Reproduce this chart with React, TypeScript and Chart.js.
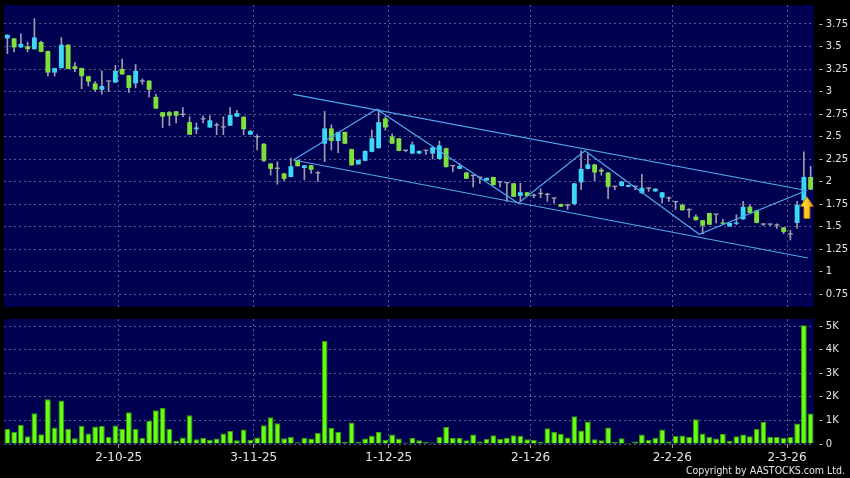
import React, { useEffect, useRef } from 'react';
import { Chart, registerables } from 'chart.js';

Chart.register(...registerables);

// ---- DATA ----
const openP = [
  3.59, 3.59, 3.49, 3.50, 3.47, 3.55, 3.45, 3.21, 3.26, 3.52,
  3.28, 3.26, 3.17, 3.09, 3.02, 3.11, 3.10, 3.25, 3.18, 3.09,
  3.11, 3.12, 2.94, 2.77, 2.77, 2.78, 2.74, 2.66, 2.58, 2.69,
  2.60, 2.62, 2.60, 2.62, 2.72, 2.72, 2.52, 2.49, 2.42, 2.20,
  2.14, 2.09, 2.05, 2.24, 2.15, 2.18, 2.09, 2.42, 2.59, 2.45,
  2.55, 2.36, 2.19, 2.23, 2.33, 2.37, 2.70, 2.50, 2.48, 2.34,
  2.31, 2.31, 2.34, 2.31, 2.25, 2.37, 2.17, 2.14, 2.10, 2.06,
  2.04, 2.01, 2.05, 1.99, 1.98, 1.98, 1.84, 1.88, 1.84, 1.86,
  1.85, 1.81, 1.75, 1.73, 1.75, 1.99, 2.14, 2.19, 2.13, 2.10,
  1.94, 1.95, 1.94, 1.94, 1.87, 1.92, 1.89, 1.82, 1.81, 1.77,
  1.74, 1.68, 1.61, 1.57, 1.65, 1.63, 1.54, 1.50, 1.53, 1.58,
  1.72, 1.68, 1.52, 1.52, 1.51, 1.49, 1.41, 1.54, 1.79, 2.05,
];
const highP = [
  3.63, 3.59, 3.64, 3.55, 3.81, 3.56, 3.45, 3.26, 3.60, 3.52,
  3.32, 3.26, 3.17, 3.11, 3.23, 3.11, 3.29, 3.36, 3.18, 3.30,
  3.14, 3.12, 2.97, 2.77, 2.78, 2.78, 2.82, 2.72, 2.65, 2.73,
  2.73, 2.65, 2.72, 2.82, 2.79, 2.72, 2.57, 2.52, 2.42, 2.20,
  2.22, 2.09, 2.26, 2.24, 2.18, 2.18, 2.11, 2.78, 2.63, 2.55,
  2.55, 2.36, 2.24, 2.34, 2.57, 2.80, 2.72, 2.53, 2.48, 2.35,
  2.44, 2.34, 2.34, 2.38, 2.45, 2.37, 2.18, 2.20, 2.10, 2.07,
  2.05, 2.04, 2.05, 2.00, 1.98, 1.98, 1.98, 1.88, 1.86, 1.92,
  1.87, 1.81, 1.75, 1.75, 1.98, 2.34, 2.31, 2.19, 2.15, 2.10,
  1.94, 2.00, 1.96, 1.94, 2.08, 1.93, 1.92, 1.88, 1.83, 1.78,
  1.75, 1.70, 1.63, 1.57, 1.65, 1.63, 1.58, 1.54, 1.63, 1.78,
  1.74, 1.68, 1.53, 1.52, 1.53, 1.49, 1.46, 1.78, 2.33, 2.17,
];
const lowP = [
  3.42, 3.44, 3.49, 3.44, 3.47, 3.44, 3.17, 3.17, 3.26, 3.25,
  3.22, 3.03, 3.06, 3.00, 2.97, 3.00, 3.10, 3.19, 2.99, 3.04,
  3.08, 2.94, 2.81, 2.60, 2.62, 2.65, 2.72, 2.52, 2.53, 2.65,
  2.60, 2.52, 2.52, 2.62, 2.72, 2.52, 2.52, 2.35, 2.22, 2.07,
  1.97, 2.01, 2.05, 2.17, 2.02, 2.09, 2.00, 2.22, 2.35, 2.32,
  2.42, 2.18, 2.19, 2.23, 2.33, 2.37, 2.57, 2.42, 2.34, 2.33,
  2.31, 2.31, 2.30, 2.25, 2.25, 2.16, 2.11, 2.14, 2.03, 1.94,
  1.98, 2.01, 1.96, 1.94, 1.78, 1.83, 1.78, 1.84, 1.82, 1.82,
  1.78, 1.76, 1.72, 1.69, 1.74, 1.91, 2.14, 2.01, 2.07, 1.81,
  1.91, 1.95, 1.94, 1.91, 1.87, 1.89, 1.89, 1.76, 1.78, 1.69,
  1.68, 1.60, 1.57, 1.42, 1.52, 1.54, 1.52, 1.50, 1.52, 1.58,
  1.65, 1.54, 1.51, 1.51, 1.48, 1.42, 1.35, 1.48, 1.78, 1.91,
];
const closeP = [
  3.63, 3.49, 3.53, 3.47, 3.60, 3.44, 3.21, 3.26, 3.52, 3.25,
  3.25, 3.17, 3.11, 3.02, 3.06, 3.11, 3.23, 3.19, 3.04, 3.23,
  3.11, 3.02, 2.81, 2.72, 2.73, 2.73, 2.74, 2.52, 2.60, 2.69,
  2.68, 2.62, 2.60, 2.74, 2.76, 2.58, 2.56, 2.49, 2.23, 2.14,
  2.14, 2.03, 2.17, 2.17, 2.18, 2.13, 2.09, 2.59, 2.45, 2.55,
  2.42, 2.18, 2.24, 2.34, 2.48, 2.66, 2.60, 2.42, 2.34, 2.34,
  2.41, 2.34, 2.34, 2.38, 2.40, 2.16, 2.17, 2.17, 2.03, 2.06,
  2.04, 2.04, 1.96, 1.99, 1.98, 1.83, 1.88, 1.84, 1.84, 1.86,
  1.85, 1.81, 1.72, 1.73, 1.98, 2.14, 2.19, 2.10, 2.11, 1.94,
  1.94, 2.00, 1.96, 1.94, 1.93, 1.92, 1.92, 1.88, 1.81, 1.77,
  1.68, 1.68, 1.57, 1.51, 1.52, 1.63, 1.53, 1.54, 1.54, 1.72,
  1.65, 1.54, 1.52, 1.52, 1.51, 1.44, 1.41, 1.74, 2.05, 1.91,
];
// volume in thousands
const volumeK = [
  0.64, 0.52, 0.81, 0.33, 1.30, 0.41, 1.90, 0.70, 1.84, 0.64,
  0.24, 0.77, 0.45, 0.74, 0.77, 0.30, 0.78, 0.64, 1.35, 0.64,
  0.26, 0.98, 1.43, 1.53, 0.64, 0.13, 0.28, 1.22, 0.20, 0.27,
  0.18, 0.23, 0.45, 0.55, 0.16, 0.61, 0.18, 0.28, 0.79, 1.13,
  0.88, 0.24, 0.30, 0.07, 0.26, 0.23, 0.48, 4.37, 0.68, 0.52,
  0.10, 0.91, 0.10, 0.23, 0.35, 0.51, 0.17, 0.40, 0.23, 0.06,
  0.26, 0.16, 0.09, 0.06, 0.31, 0.72, 0.26, 0.27, 0.16, 0.40,
  0.11, 0.21, 0.37, 0.21, 0.27, 0.37, 0.35, 0.20, 0.18, 0.10,
  0.67, 0.52, 0.43, 0.28, 1.18, 0.57, 0.95, 0.20, 0.16, 0.70,
  0.09, 0.24, 0.05, 0.11, 0.40, 0.18, 0.27, 0.61, 0.11, 0.34,
  0.36, 0.30, 1.05, 0.44, 0.30, 0.23, 0.43, 0.14, 0.33, 0.40,
  0.33, 0.64, 0.94, 0.31, 0.30, 0.27, 0.30, 0.87, 5.03, 1.29,
];
const priceTicks = [0.75, 1, 1.25, 1.5, 1.75, 2, 2.25, 2.5, 2.75, 3, 3.25, 3.5, 3.75];
const volumeTicks = [0, 1, 2, 3, 4, 5];
const dateTickPos = [16.5, 36.5, 56.5, 77.5, 98.5, 115.5];
const dateTickLabels = ['2-10-25', '3-11-25', '1-12-25', '2-1-26', '2-2-26', '2-3-26'];
// drawn trend lines (bar index, price)
const upperChannelX = [42.36, 118.4];
const upperChannelY = [2.969, 1.9];
const lowerChannelX = [42.36, 118.6];
const lowerChannelY = [2.239, 1.15];
const zigzagX = [42.36, 54.71, 75.69, 85.57, 102.5, 118.4];
const zigzagY = [2.239, 2.802, 1.758, 2.342, 1.413, 1.9];
const arrowX = 118.45;
const arrowTop = 1.83;
const arrowBottom = 1.59;

// ---- STYLE ----
const NAVY = '#000050';
const GRID = '#5a5a8c';
const CYAN = '#3cd6f6';
const GREEN = '#7ee03a';
const GRAY = '#a4a4b0';
const WICK = '#9c9cac';
const VOL = '#66ff11';
const VOL_EDGE = '#3a9a08';
const LINE = '#4ea8ec';
const TEXT = '#e4e4e4';
const FONT = '"DejaVu Sans", sans-serif';

const X_MIN = -0.5;
const X_MAX = openP.length - 0.5;
const P_MAX = 3.75 + 19 / 90;
const P_MIN = P_MAX - 302 / 90;
const V_MAX = 5.297;

const panelBg = {
  id: 'panelBg',
  beforeDraw(chart: any) {
    const { ctx, chartArea: a } = chart;
    ctx.save();
    ctx.fillStyle = NAVY;
    ctx.fillRect(a.left, a.top, a.right - a.left, a.bottom - a.top);
    ctx.restore();
  },
};

const arrowPlugin = {
  id: 'arrowMark',
  afterDatasetsDraw(chart: any) {
    const { ctx, scales } = chart;
    const cx = scales.x.getPixelForValue(arrowX);
    const top = scales.y.getPixelForValue(arrowTop);
    const bottom = scales.y.getPixelForValue(arrowBottom);
    const headH = (bottom - top) * 0.45;
    const headW = 6.5;
    const shaftW = 3;
    ctx.save();
    const g = ctx.createLinearGradient(cx - headW, 0, cx + headW, 0);
    g.addColorStop(0, '#ffe04a');
    g.addColorStop(0.5, '#ffc928');
    g.addColorStop(1, '#e39a00');
    ctx.fillStyle = g;
    ctx.strokeStyle = '#b87800';
    ctx.lineWidth = 0.8;
    ctx.beginPath();
    ctx.moveTo(cx, top);
    ctx.lineTo(cx + headW, top + headH);
    ctx.lineTo(cx + shaftW, top + headH);
    ctx.lineTo(cx + shaftW, bottom);
    ctx.lineTo(cx - shaftW, bottom);
    ctx.lineTo(cx - shaftW, top + headH);
    ctx.lineTo(cx - headW, top + headH);
    ctx.closePath();
    ctx.fill();
    ctx.stroke();
    ctx.restore();
  },
};

function candleColor(i: number) {
  if (closeP[i] > openP[i]) return CYAN;
  if (closeP[i] < openP[i]) return GREEN;
  return GRAY;
}

const gridX = (ax: any) => {
  ax.ticks = dateTickPos.map((v) => ({ value: v }));
};
const noPadX = (h: number) => (ax: any) => {
  ax.height = h;
  ax.paddingLeft = 0;
  ax.paddingRight = 0;
};
const noPadY = (ax: any) => {
  ax.width = 36;
  ax.paddingTop = 0;
  ax.paddingBottom = 0;
};

export default function App() {
  const topRef = useRef<HTMLCanvasElement>(null);
  const botRef = useRef<HTMLCanvasElement>(null);

  useEffect(() => {
    Chart.defaults.font.family = FONT;
    const idx = openP.map((_, i) => i);

    const lineDs = (xs: number[], ys: number[]) => ({
      type: 'line' as const,
      data: xs.map((x, i) => ({ x, y: ys[i] })),
      borderColor: LINE,
      borderWidth: 1.2,
      pointRadius: 0,
      tension: 0,
      fill: false,
      order: 0,
    });

    const top = new Chart(topRef.current!, {
      type: 'bar',
      data: {
        datasets: [
          lineDs(upperChannelX, upperChannelY) as any,
          lineDs(lowerChannelX, lowerChannelY) as any,
          lineDs(zigzagX, zigzagY) as any,
          {
            type: 'bar',
            data: idx.map((i) => ({ x: i, y: [Math.min(openP[i], closeP[i]), Math.max(openP[i], closeP[i])] })),
            backgroundColor: idx.map(candleColor),
            borderWidth: 0,
            barPercentage: 0.72,
            categoryPercentage: 1,
            minBarLength: 1.3,
            grouped: false,
            order: 1,
          } as any,
          {
            type: 'bar',
            data: idx.map((i) => ({ x: i, y: [lowP[i], highP[i]] })),
            backgroundColor: WICK,
            borderWidth: 0,
            barThickness: 1,
            grouped: false,
            order: 2,
          } as any,
        ],
      },
      options: {
        responsive: false,
        animation: false,
        events: [],
        layout: { padding: { left: 4, top: 5, right: 0, bottom: 5 } },
        plugins: { legend: { display: false }, tooltip: { enabled: false } },
        scales: {
          x: {
            type: 'linear',
            min: X_MIN,
            max: X_MAX,
            offset: false,
            afterBuildTicks: gridX,
            afterFit: noPadX(0),
            ticks: { display: false },
            grid: { color: GRID, drawTicks: false, lineWidth: 1, offset: false },
            border: { display: false, dash: [2, 3] },
          },
          y: {
            position: 'right',
            min: P_MIN,
            max: P_MAX,
            afterBuildTicks: (ax: any) => { ax.ticks = priceTicks.map((v) => ({ value: v })); },
            afterFit: noPadY,
            ticks: {
              color: TEXT,
              font: { size: 10, family: FONT },
              padding: 5,
              callback: (v: any) => '- ' + v,
            },
            grid: { color: GRID, drawTicks: false, lineWidth: 1 },
            border: { display: false, dash: [2, 3] },
          },
        },
      },
      plugins: [panelBg, arrowPlugin],
    } as any);

    const bot = new Chart(botRef.current!, {
      type: 'bar',
      data: {
        datasets: [
          {
            data: idx.map((i) => ({ x: i, y: volumeK[i] })),
            backgroundColor: VOL,
            borderColor: VOL_EDGE,
            borderWidth: 1,
            barPercentage: 0.86,
            categoryPercentage: 1,
          } as any,
        ],
      },
      options: {
        responsive: false,
        animation: false,
        events: [],
        layout: { padding: { left: 4, top: 7, right: 0, bottom: 0 } },
        plugins: { legend: { display: false }, tooltip: { enabled: false } },
        scales: {
          x: {
            type: 'linear',
            min: X_MIN,
            max: X_MAX,
            offset: false,
            afterBuildTicks: gridX,
            afterFit: noPadX(34),
            ticks: {
              autoSkip: false,
              maxRotation: 0,
              color: TEXT,
              font: { size: 12, family: FONT },
              padding: 3,
              callback: (v: any) => dateTickLabels[dateTickPos.indexOf(v)] ?? '',
            },
            grid: {
              color: GRID,
              offset: false,
              drawTicks: true,
              tickLength: 4,
              tickColor: '#9a9aa0',
              tickBorderDash: [],
              lineWidth: 1,
            },
            border: { display: false, dash: [2, 3] },
          },
          y: {
            position: 'right',
            min: 0,
            max: V_MAX,
            afterBuildTicks: (ax: any) => { ax.ticks = volumeTicks.map((v) => ({ value: v })); },
            afterFit: noPadY,
            ticks: {
              color: TEXT,
              font: { size: 10, family: FONT },
              padding: 5,
              callback: (v: any) => '- ' + (v === 0 ? '0' : v + 'K'),
            },
            grid: { color: GRID, drawTicks: false, lineWidth: 1 },
            border: { display: false, dash: [2, 3] },
          },
        },
      },
      plugins: [panelBg],
    } as any);

    return () => {
      top.destroy();
      bot.destroy();
    };
  }, []);

  return (
    <div style={{ position: 'fixed', left: 0, top: 0, width: 850, height: 478, background: '#000', overflow: 'hidden' }}>
      <canvas ref={topRef} width={850} height={312} style={{ position: 'absolute', left: 0, top: 0 }} />
      <canvas ref={botRef} width={850} height={166} style={{ position: 'absolute', left: 0, top: 312 }} />
      <div
        style={{
          position: 'absolute',
          right: 5,
          top: 464,
          color: TEXT,
          font: '10.5px "DejaVu Sans Condensed", "DejaVu Sans", sans-serif',
          lineHeight: '12px',
          whiteSpace: 'nowrap',
        }}
      >
        Copyright by AASTOCKS.com Ltd.
      </div>
    </div>
  );
}
